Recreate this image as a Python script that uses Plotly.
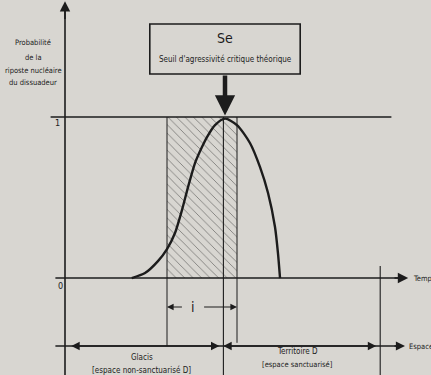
import plotly.graph_objects as go

# ---- data (diagram units: t = time, p = probability) ----
curve_t = [0.417, 0.50, 0.581, 0.6375, 0.6875, 0.731, 0.769, 0.8125, 0.856, 0.8875, 0.9375, 1.00,
           1.075, 1.156, 1.219, 1.269, 1.3125, 1.331, 1.344]
curve_p = [0.00, 0.031, 0.105, 0.18, 0.28, 0.422, 0.565, 0.714, 0.814, 0.876, 0.95, 0.99,
           0.95, 0.839, 0.689, 0.528, 0.317, 0.155, 0.00]

hatch_t = [0.6375, 1.075]          # hatched interval i
peak_t = 0.99                      # Se
sanct_t = 1.97                     # end of territoire D
espace_p = -0.422                  # level of the "Espace" axis
i_p = -0.18                        # level of the interval arrow

X_RANGE = [-0.40625, 2.2875]
Y_RANGE = [-0.602, 1.727]

INK = "#1c1c1c"
BG = "#d8d6d1"
FONT = "DejaVu Sans Condensed"

fig = go.Figure()

def line(xs, ys, w=1.6, color=INK):
    fig.add_trace(go.Scatter(x=xs, y=ys, mode="lines", line=dict(color=color, width=w),
                             hoverinfo="skip", showlegend=False))

# hatched area
fig.add_trace(go.Scatter(x=[hatch_t[0], hatch_t[1], hatch_t[1], hatch_t[0], hatch_t[0]],
                         y=[0, 0, 1, 1, 0], mode="lines", fill="toself",
                         fillcolor="rgba(0,0,0,0)", line=dict(width=0),
                         fillpattern=dict(shape="\\", fgcolor="#2a2a2a", bgcolor="rgba(0,0,0,0)",
                                          size=6, solidity=0.15),
                         hoverinfo="skip", showlegend=False))

# axes / guide lines
line([-0.09, 2.04], [1, 1], 1.6)
line([-0.06, 2.13], [0, 0], 1.6)
line([-0.06, 2.11], [espace_p, espace_p], 1.4)
line([0, 0], [Y_RANGE[0], 1.68], 1.6)
line([hatch_t[0], hatch_t[0]], [1, espace_p], 1.0)
line([hatch_t[1], hatch_t[1]], [1, espace_p + 0.02], 1.0)
line([peak_t, peak_t], [1, Y_RANGE[0]], 1.1)
line([sanct_t, sanct_t], [0.075, Y_RANGE[0]], 1.1)

# curve
fig.add_trace(go.Scatter(x=curve_t, y=curve_p, mode="lines",
                         line=dict(color=INK, width=2.4, shape="spline", smoothing=0.7),
                         hoverinfo="skip", showlegend=False))

ann = []
def arrow(x0, y0, x1, y1, w=1.4, head=2, size=1.2, side="end"):
    ann.append(dict(x=x1, y=y1, ax=x0, ay=y0, xref="x", yref="y", axref="x", ayref="y",
                    showarrow=True, arrowhead=head, arrowsize=size, arrowwidth=w,
                    arrowcolor=INK, arrowside=side, text=""))

def text(x, y, s, size=9, xanchor="center"):
    ann.append(dict(x=x, y=y, xref="x", yref="y", text=s, showarrow=False,
                    xanchor=xanchor, yanchor="middle",
                    font=dict(family=FONT, size=size, color=INK)))

# axis arrowheads
arrow(0, 1.6, 0, 1.72, 1.6, 2, 1.3)
arrow(2.05, 0, 2.145, 0, 1.6, 2, 1.3)
arrow(2.05, espace_p, 2.125, espace_p, 1.4, 2, 1.3)
# espace segments
arrow(0.03, espace_p, 0.965, espace_p, 1.4, 2, 1.2, "end+start")
arrow(0.98, espace_p, 1.945, espace_p, 1.4, 2, 1.2, "end+start")
# interval i
arrow(0.86, i_p, hatch_t[1], i_p, 1.1, 2, 1.2)
arrow(0.74, i_p, hatch_t[0], i_p, 1.1, 2, 1.2)
text(0.80, i_p, "i", 14)
# Se arrow
arrow(peak_t + 0.01, 1.267, peak_t + 0.01, 1.01, 4.5, 2, 0.9)

# labels
text(-0.03, -0.05, "0", 9)
text(-0.05, 0.963, "1", 9)
text(2.16, 0, "Temps", 7.5, "left")
text(2.14, espace_p, "Espace", 7.5, "left")
text(0.48, -0.495, "Glacis", 8)
text(0.48, -0.57, "[espace non-sanctuarisé D]", 8)
text(1.45, -0.455, "Territoire D", 8)
text(1.45, -0.535, "[espace sanctuarisé]", 7.5)
text(-0.2, 1.46, "Probabilité", 7.5)
text(-0.2, 1.373, "de la", 7.5)
text(-0.2, 1.29, "riposte nucléaire", 7.5)
text(-0.2, 1.217, "du dissuadeur", 7.5)
text(1.0, 1.49, "Se", 14)
text(1.0, 1.36, "Seuil d'agressivité critique théorique", 8)

fig.add_shape(type="rect", xref="x", yref="y", x0=0.53, x1=1.47, y0=1.267, y1=1.578,
              line=dict(color=INK, width=1.6), fillcolor="rgba(0,0,0,0)")

fig.update_layout(
    width=431, height=375, margin=dict(l=0, r=0, t=0, b=0),
    paper_bgcolor=BG, plot_bgcolor=BG, annotations=ann,
    xaxis=dict(range=X_RANGE, visible=False, fixedrange=True),
    yaxis=dict(range=Y_RANGE, visible=False, fixedrange=True),
)
fig.write_html("out.html", config={"displayModeBar": False},
               post_script="document.body.style.margin='0';document.body.style.overflow='hidden';document.body.style.background='" + BG + "';")
